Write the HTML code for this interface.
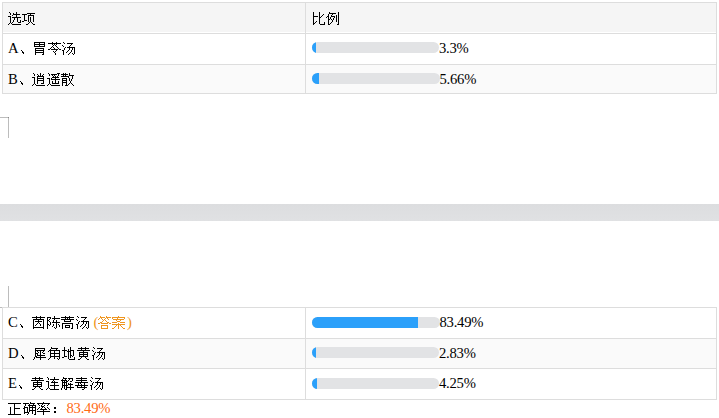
<!DOCTYPE html>
<html lang="zh-CN">
<head>
<meta charset="utf-8">
<title>选项比例</title>
<style>
html,body{margin:0;padding:0;background:#fff;}
body{position:relative;width:719px;height:418px;overflow:hidden;font-family:"Liberation Serif",serif;font-size:14.667px;color:#000;}
.abs,.bg,.hl,.vl,.t,.bar,.cjk{position:absolute;}
.hl{height:1px;background:#ddd;left:2px;width:715px;}
.vl{width:1px;background:#ddd;}
.t{line-height:16px;height:16px;white-space:nowrap;}
.bar{left:312px;width:127px;height:11px;border-radius:6px;background:#e2e3e5;overflow:hidden;}
.bar i{display:block;height:11px;background:#2ba0fa;}
.p{letter-spacing:-0.25px;}
.o{color:#ef9620;}
.r{color:#ff6a14;}
.mk{background:#bcbcbc;}
.cjk{left:0;top:0;}
</style>
</head>
<body>

<div class="bg" style="left:3px;top:3px;width:713px;height:29px;background:#f5f5f5"></div>
<div class="bg" style="left:3px;top:65px;width:713px;height:28px;background:#fafafa"></div>
<div class="bg" style="left:3px;top:339px;width:713px;height:29px;background:#fafafa"></div>
<div class="bg" style="left:0;top:204px;width:719px;height:17px;background:linear-gradient(#dcdddf,#e0e1e3)"></div>
<div class="hl" style="top:2px"></div>
<div class="hl" style="top:33px"></div>
<div class="hl" style="top:64px"></div>
<div class="hl" style="top:93px"></div>
<div class="vl" style="left:2px;top:2px;height:92px"></div>
<div class="vl" style="left:305px;top:2px;height:92px"></div>
<div class="vl" style="left:716px;top:2px;height:92px"></div>
<div class="hl" style="top:307px"></div>
<div class="hl" style="top:338px"></div>
<div class="hl" style="top:368px"></div>
<div class="hl" style="top:399px"></div>
<div class="vl" style="left:2px;top:307px;height:93px"></div>
<div class="vl" style="left:305px;top:307px;height:93px"></div>
<div class="vl" style="left:716px;top:307px;height:93px"></div>
<div class="abs mk" style="left:0;top:117px;width:9px;height:1px"></div>
<div class="abs mk" style="left:8px;top:117px;width:1px;height:21px"></div>
<div class="abs" style="left:8px;top:117px;width:1px;height:1px;background:#8c8c8c"></div>
<div class="abs mk" style="left:8px;top:286px;width:1px;height:21px"></div>
<div class="abs mk" style="left:0;top:307px;width:2px;height:1px"></div>
<div class="t" style="left:8px;top:40px">A</div>
<div class="bar" style="top:42px;width:127px"><i style="width:4.19px"></i></div>
<div class="t p" style="left:439px;top:40px">3.3%</div>
<div class="t" style="left:8px;top:71px">B</div>
<div class="bar" style="top:73px;width:127.5px"><i style="width:7.19px"></i></div>
<div class="t p" style="left:439.5px;top:71px">5.66%</div>
<div class="t" style="left:8px;top:314px">C</div>
<div class="bar" style="top:317px;width:127.5px"><i style="width:106.03px"></i></div>
<div class="t p" style="left:439.5px;top:314px">83.49%</div>
<div class="t" style="left:8px;top:345px">D</div>
<div class="bar" style="top:347px;width:127px"><i style="width:3.59px"></i></div>
<div class="t p" style="left:439px;top:345px">2.83%</div>
<div class="t" style="left:8px;top:375px">E</div>
<div class="bar" style="top:378px;width:127px"><i style="width:5.4px"></i></div>
<div class="t p" style="left:439px;top:375px">4.25%</div>
<div class="t o" style="left:93.5px;top:314px">(</div>
<div class="t o" style="left:127px;top:314px">)</div>
<div class="t r p" style="left:66.5px;top:400px">83.49%</div>
<svg class="cjk" width="719" height="418" viewBox="0 0 719 418" shape-rendering="crispEdges"><title>选项 比例 A、胃苓汤 B、逍遥散 C、茵陈蒿汤 (答案) D、犀角地黄汤 E、黄连解毒汤 正确率：</title><path fill="#000" d="M9 12h1v1h-1zM16 12h1v1h-1zM10 13h1v1h-1zM13 13h1v1h-1zM16 13h1v1h-1zM10 14h1v1h-1zM13 14h7v1h-7zM12 15h1v1h-1zM16 15h1v1h-1zM8 16h3v1h-3zM16 16h1v1h-1zM10 17h1v1h-1zM12 17h9v1h-9zM10 18h1v1h-1zM14 18h1v1h-1zM17 18h1v1h-1zM10 19h1v1h-1zM14 19h1v1h-1zM17 19h1v1h-1zM10 20h1v1h-1zM13 20h1v1h-1zM17 20h1v1h-1zM20 20h1v1h-1zM10 21h1v1h-1zM13 21h1v1h-1zM17 21h1v1h-1zM20 21h1v1h-1zM10 22h1v1h-1zM12 22h1v1h-1zM18 22h3v1h-3zM9 23h1v1h-1zM11 23h1v1h-1zM8 24h1v1h-1zM12 24h9v1h-9zM27 13h8v1h-8zM22 14h5v1h-5zM30 14h1v1h-1zM24 15h1v1h-1zM28 15h6v1h-6zM24 16h1v1h-1zM28 16h1v1h-1zM33 16h1v1h-1zM24 17h1v1h-1zM28 17h1v1h-1zM30 17h1v1h-1zM33 17h1v1h-1zM24 18h1v1h-1zM28 18h1v1h-1zM30 18h1v1h-1zM33 18h1v1h-1zM24 19h1v1h-1zM28 19h1v1h-1zM30 19h1v1h-1zM33 19h1v1h-1zM24 20h3v1h-3zM28 20h1v1h-1zM30 20h1v1h-1zM33 20h1v1h-1zM22 21h2v1h-2zM28 21h1v1h-1zM30 21h1v1h-1zM33 21h1v1h-1zM29 22h1v1h-1zM31 22h1v1h-1zM28 23h1v1h-1zM32 23h1v1h-1zM26 24h2v1h-2zM33 24h2v1h-2zM313 12h1v1h-1zM319 12h1v1h-1zM313 13h1v1h-1zM319 13h1v1h-1zM313 14h1v1h-1zM319 14h1v1h-1zM323 14h1v1h-1zM313 15h1v1h-1zM319 15h1v1h-1zM322 15h1v1h-1zM313 16h5v1h-5zM319 16h1v1h-1zM321 16h1v1h-1zM313 17h1v1h-1zM319 17h2v1h-2zM313 18h1v1h-1zM319 18h1v1h-1zM313 19h1v1h-1zM319 19h1v1h-1zM313 20h1v1h-1zM319 20h1v1h-1zM313 21h1v1h-1zM316 21h1v1h-1zM319 21h1v1h-1zM313 22h1v1h-1zM315 22h1v1h-1zM319 22h1v1h-1zM324 22h1v1h-1zM313 23h2v1h-2zM319 23h1v1h-1zM324 23h1v1h-1zM313 24h1v1h-1zM320 24h5v1h-5zM329 12h1v1h-1zM338 12h1v1h-1zM329 13h7v1h-7zM338 13h1v1h-1zM328 14h1v1h-1zM332 14h1v1h-1zM338 14h1v1h-1zM328 15h1v1h-1zM331 15h1v1h-1zM336 15h1v1h-1zM338 15h1v1h-1zM327 16h2v1h-2zM331 16h4v1h-4zM336 16h1v1h-1zM338 16h1v1h-1zM326 17h1v1h-1zM328 17h1v1h-1zM330 17h1v1h-1zM334 17h1v1h-1zM336 17h1v1h-1zM338 17h1v1h-1zM328 18h1v1h-1zM330 18h1v1h-1zM333 18h1v1h-1zM336 18h1v1h-1zM338 18h1v1h-1zM328 19h2v1h-2zM331 19h1v1h-1zM333 19h1v1h-1zM336 19h1v1h-1zM338 19h1v1h-1zM328 20h1v1h-1zM332 20h1v1h-1zM336 20h1v1h-1zM338 20h1v1h-1zM328 21h1v1h-1zM332 21h1v1h-1zM336 21h1v1h-1zM338 21h1v1h-1zM328 22h1v1h-1zM331 22h1v1h-1zM338 22h1v1h-1zM328 23h1v1h-1zM330 23h1v1h-1zM338 23h1v1h-1zM328 24h2v1h-2zM337 24h2v1h-2zM21 50h1v1h-1zM22 51h1v1h-1zM22 52h2v1h-2zM23 53h1v1h-1zM34 42h11v1h-11zM34 43h1v1h-1zM39 43h1v1h-1zM44 43h1v1h-1zM34 44h11v1h-11zM34 45h1v1h-1zM39 45h1v1h-1zM44 45h1v1h-1zM34 46h11v1h-11zM35 48h9v1h-9zM35 49h1v1h-1zM43 49h1v1h-1zM35 50h9v1h-9zM35 51h1v1h-1zM43 51h1v1h-1zM35 52h9v1h-9zM35 53h1v1h-1zM43 53h1v1h-1zM35 54h1v1h-1zM42 54h2v1h-2zM52 42h1v1h-1zM56 42h1v1h-1zM48 43h13v1h-13zM52 44h1v1h-1zM54 44h1v1h-1zM56 44h1v1h-1zM53 45h1v1h-1zM55 45h1v1h-1zM52 46h1v1h-1zM56 46h1v1h-1zM51 47h1v1h-1zM53 47h1v1h-1zM57 47h1v1h-1zM50 48h1v1h-1zM54 48h1v1h-1zM58 48h1v1h-1zM48 49h2v1h-2zM51 49h7v1h-7zM59 49h2v1h-2zM56 50h1v1h-1zM53 51h1v1h-1zM55 51h1v1h-1zM54 52h1v1h-1zM55 53h1v1h-1zM55 54h1v1h-1zM63 42h1v1h-1zM64 43h1v1h-1zM67 43h6v1h-6zM71 44h1v1h-1zM62 45h1v1h-1zM70 45h1v1h-1zM63 46h1v1h-1zM69 46h1v1h-1zM65 47h1v1h-1zM67 47h8v1h-8zM64 48h1v1h-1zM69 48h1v1h-1zM72 48h1v1h-1zM74 48h1v1h-1zM64 49h1v1h-1zM69 49h1v1h-1zM72 49h1v1h-1zM74 49h1v1h-1zM62 50h2v1h-2zM68 50h1v1h-1zM71 50h1v1h-1zM74 50h1v1h-1zM63 51h1v1h-1zM67 51h1v1h-1zM71 51h1v1h-1zM74 51h1v1h-1zM63 52h1v1h-1zM66 52h1v1h-1zM70 52h1v1h-1zM74 52h1v1h-1zM63 53h1v1h-1zM69 53h1v1h-1zM72 53h1v1h-1zM74 53h1v1h-1zM63 54h1v1h-1zM68 54h1v1h-1zM73 54h1v1h-1zM20 81h1v1h-1zM21 82h1v1h-1zM21 83h2v1h-2zM22 84h1v1h-1zM33 73h1v1h-1zM40 73h1v1h-1zM34 74h1v1h-1zM37 74h1v1h-1zM40 74h1v1h-1zM43 74h1v1h-1zM34 75h1v1h-1zM38 75h1v1h-1zM40 75h1v1h-1zM42 75h1v1h-1zM37 76h7v1h-7zM32 77h3v1h-3zM37 77h1v1h-1zM43 77h1v1h-1zM34 78h1v1h-1zM37 78h7v1h-7zM34 79h1v1h-1zM37 79h1v1h-1zM43 79h1v1h-1zM34 80h1v1h-1zM37 80h7v1h-7zM34 81h1v1h-1zM37 81h1v1h-1zM43 81h1v1h-1zM34 82h1v1h-1zM37 82h1v1h-1zM43 82h1v1h-1zM34 83h1v1h-1zM37 83h1v1h-1zM41 83h3v1h-3zM33 84h1v1h-1zM35 84h1v1h-1zM32 85h1v1h-1zM36 85h9v1h-9zM48 73h1v1h-1zM57 73h3v1h-3zM49 74h1v1h-1zM51 74h6v1h-6zM58 74h1v1h-1zM49 75h1v1h-1zM52 75h1v1h-1zM54 75h1v1h-1zM58 75h1v1h-1zM53 76h1v1h-1zM55 76h1v1h-1zM57 76h1v1h-1zM52 77h7v1h-7zM47 78h3v1h-3zM51 78h1v1h-1zM55 78h1v1h-1zM49 79h1v1h-1zM51 79h9v1h-9zM49 80h1v1h-1zM55 80h1v1h-1zM49 81h1v1h-1zM52 81h1v1h-1zM55 81h1v1h-1zM58 81h1v1h-1zM49 82h1v1h-1zM52 82h1v1h-1zM55 82h1v1h-1zM58 82h1v1h-1zM49 83h1v1h-1zM52 83h7v1h-7zM48 84h1v1h-1zM50 84h1v1h-1zM47 85h1v1h-1zM51 85h9v1h-9zM63 73h1v1h-1zM65 73h1v1h-1zM69 73h1v1h-1zM61 74h7v1h-7zM69 74h1v1h-1zM63 75h1v1h-1zM65 75h1v1h-1zM69 75h5v1h-5zM61 76h8v1h-8zM72 76h1v1h-1zM68 77h1v1h-1zM72 77h1v1h-1zM62 78h5v1h-5zM69 78h1v1h-1zM72 78h1v1h-1zM62 79h1v1h-1zM66 79h1v1h-1zM69 79h1v1h-1zM71 79h1v1h-1zM62 80h5v1h-5zM69 80h1v1h-1zM71 80h1v1h-1zM62 81h1v1h-1zM66 81h1v1h-1zM70 81h1v1h-1zM62 82h5v1h-5zM70 82h1v1h-1zM62 83h1v1h-1zM66 83h1v1h-1zM69 83h1v1h-1zM71 83h1v1h-1zM62 84h1v1h-1zM66 84h1v1h-1zM68 84h1v1h-1zM72 84h1v1h-1zM62 85h1v1h-1zM65 85h3v1h-3zM73 85h1v1h-1zM20 324h1v1h-1zM21 325h1v1h-1zM21 326h2v1h-2zM22 327h1v1h-1zM36 316h1v1h-1zM40 316h1v1h-1zM32 317h13v1h-13zM36 318h1v1h-1zM40 318h1v1h-1zM33 319h11v1h-11zM33 320h1v1h-1zM38 320h1v1h-1zM43 320h1v1h-1zM33 321h1v1h-1zM35 321h7v1h-7zM43 321h1v1h-1zM33 322h1v1h-1zM38 322h1v1h-1zM43 322h1v1h-1zM33 323h1v1h-1zM37 323h1v1h-1zM39 323h1v1h-1zM43 323h1v1h-1zM33 324h1v1h-1zM36 324h1v1h-1zM40 324h1v1h-1zM43 324h1v1h-1zM33 325h1v1h-1zM35 325h1v1h-1zM40 325h1v1h-1zM43 325h1v1h-1zM33 326h1v1h-1zM43 326h1v1h-1zM33 327h11v1h-11zM33 328h1v1h-1zM43 328h1v1h-1zM54 316h1v1h-1zM47 317h4v1h-4zM54 317h1v1h-1zM47 318h1v1h-1zM50 318h1v1h-1zM52 318h8v1h-8zM47 319h1v1h-1zM49 319h1v1h-1zM54 319h1v1h-1zM47 320h2v1h-2zM53 320h1v1h-1zM56 320h1v1h-1zM47 321h1v1h-1zM49 321h1v1h-1zM53 321h1v1h-1zM56 321h1v1h-1zM47 322h1v1h-1zM50 322h1v1h-1zM52 322h8v1h-8zM47 323h1v1h-1zM50 323h1v1h-1zM56 323h1v1h-1zM47 324h2v1h-2zM50 324h1v1h-1zM53 324h1v1h-1zM56 324h1v1h-1zM58 324h1v1h-1zM47 325h1v1h-1zM49 325h1v1h-1zM53 325h1v1h-1zM56 325h1v1h-1zM59 325h1v1h-1zM47 326h1v1h-1zM52 326h1v1h-1zM56 326h1v1h-1zM59 326h1v1h-1zM47 327h1v1h-1zM54 327h1v1h-1zM56 327h1v1h-1zM47 328h1v1h-1zM55 328h1v1h-1zM65 316h1v1h-1zM69 316h1v1h-1zM61 317h13v1h-13zM65 318h1v1h-1zM67 318h1v1h-1zM69 318h1v1h-1zM61 319h13v1h-13zM64 320h1v1h-1zM70 320h1v1h-1zM64 321h7v1h-7zM62 323h11v1h-11zM62 324h1v1h-1zM72 324h1v1h-1zM62 325h1v1h-1zM65 325h5v1h-5zM72 325h1v1h-1zM62 326h1v1h-1zM65 326h1v1h-1zM69 326h1v1h-1zM72 326h1v1h-1zM62 327h1v1h-1zM65 327h5v1h-5zM72 327h1v1h-1zM62 328h1v1h-1zM71 328h2v1h-2zM77 316h1v1h-1zM78 317h1v1h-1zM81 317h6v1h-6zM85 318h1v1h-1zM76 319h1v1h-1zM84 319h1v1h-1zM77 320h1v1h-1zM83 320h1v1h-1zM79 321h1v1h-1zM81 321h8v1h-8zM78 322h1v1h-1zM83 322h1v1h-1zM86 322h1v1h-1zM88 322h1v1h-1zM78 323h1v1h-1zM83 323h1v1h-1zM86 323h1v1h-1zM88 323h1v1h-1zM76 324h2v1h-2zM82 324h1v1h-1zM85 324h1v1h-1zM88 324h1v1h-1zM77 325h1v1h-1zM81 325h1v1h-1zM85 325h1v1h-1zM88 325h1v1h-1zM77 326h1v1h-1zM80 326h1v1h-1zM84 326h1v1h-1zM88 326h1v1h-1zM77 327h1v1h-1zM83 327h1v1h-1zM86 327h1v1h-1zM88 327h1v1h-1zM77 328h1v1h-1zM82 328h1v1h-1zM87 328h1v1h-1zM21 355h1v1h-1zM22 356h1v1h-1zM22 357h2v1h-2zM23 358h1v1h-1zM35 348h10v1h-10zM35 349h1v1h-1zM44 349h1v1h-1zM35 350h10v1h-10zM35 351h1v1h-1zM37 351h1v1h-1zM40 351h1v1h-1zM43 351h1v1h-1zM35 352h1v1h-1zM38 352h1v1h-1zM40 352h1v1h-1zM42 352h1v1h-1zM35 353h3v1h-3zM40 353h1v1h-1zM43 353h2v1h-2zM35 354h1v1h-1zM37 354h1v1h-1zM40 354h1v1h-1zM35 355h1v1h-1zM37 355h8v1h-8zM35 356h2v1h-2zM40 356h1v1h-1zM34 357h1v1h-1zM36 357h10v1h-10zM34 358h1v1h-1zM40 358h1v1h-1zM33 359h1v1h-1zM40 359h1v1h-1zM51 347h1v1h-1zM51 348h7v1h-7zM50 349h1v1h-1zM56 349h1v1h-1zM49 350h11v1h-11zM48 351h1v1h-1zM50 351h1v1h-1zM54 351h1v1h-1zM59 351h1v1h-1zM50 352h1v1h-1zM54 352h1v1h-1zM59 352h1v1h-1zM50 353h10v1h-10zM50 354h1v1h-1zM54 354h1v1h-1zM59 354h1v1h-1zM50 355h1v1h-1zM54 355h1v1h-1zM59 355h1v1h-1zM50 356h10v1h-10zM50 357h1v1h-1zM54 357h1v1h-1zM59 357h1v1h-1zM49 358h1v1h-1zM54 358h1v1h-1zM57 358h1v1h-1zM59 358h1v1h-1zM48 359h1v1h-1zM58 359h1v1h-1zM64 347h1v1h-1zM70 347h1v1h-1zM64 348h1v1h-1zM70 348h1v1h-1zM64 349h1v1h-1zM68 349h1v1h-1zM70 349h1v1h-1zM62 350h5v1h-5zM68 350h1v1h-1zM70 350h4v1h-4zM64 351h1v1h-1zM67 351h4v1h-4zM73 351h1v1h-1zM64 352h1v1h-1zM68 352h1v1h-1zM70 352h1v1h-1zM73 352h1v1h-1zM64 353h1v1h-1zM68 353h1v1h-1zM70 353h1v1h-1zM73 353h1v1h-1zM64 354h1v1h-1zM68 354h1v1h-1zM70 354h1v1h-1zM73 354h1v1h-1zM64 355h1v1h-1zM68 355h1v1h-1zM70 355h2v1h-2zM73 355h1v1h-1zM64 356h3v1h-3zM68 356h1v1h-1zM70 356h1v1h-1zM72 356h1v1h-1zM62 357h2v1h-2zM68 357h1v1h-1zM70 357h1v1h-1zM74 357h1v1h-1zM68 358h1v1h-1zM74 358h1v1h-1zM69 359h6v1h-6zM81 347h1v1h-1zM85 347h1v1h-1zM78 348h11v1h-11zM81 349h1v1h-1zM85 349h1v1h-1zM77 350h13v1h-13zM83 351h1v1h-1zM79 352h9v1h-9zM79 353h1v1h-1zM83 353h1v1h-1zM87 353h1v1h-1zM79 354h9v1h-9zM79 355h1v1h-1zM83 355h1v1h-1zM87 355h1v1h-1zM79 356h9v1h-9zM81 357h1v1h-1zM85 357h1v1h-1zM80 358h1v1h-1zM86 358h1v1h-1zM78 359h2v1h-2zM87 359h2v1h-2zM93 347h1v1h-1zM94 348h1v1h-1zM97 348h6v1h-6zM101 349h1v1h-1zM92 350h1v1h-1zM100 350h1v1h-1zM93 351h1v1h-1zM99 351h1v1h-1zM95 352h1v1h-1zM97 352h8v1h-8zM94 353h1v1h-1zM99 353h1v1h-1zM102 353h1v1h-1zM104 353h1v1h-1zM94 354h1v1h-1zM99 354h1v1h-1zM102 354h1v1h-1zM104 354h1v1h-1zM92 355h2v1h-2zM98 355h1v1h-1zM101 355h1v1h-1zM104 355h1v1h-1zM93 356h1v1h-1zM97 356h1v1h-1zM101 356h1v1h-1zM104 356h1v1h-1zM93 357h1v1h-1zM96 357h1v1h-1zM100 357h1v1h-1zM104 357h1v1h-1zM93 358h1v1h-1zM99 358h1v1h-1zM102 358h1v1h-1zM104 358h1v1h-1zM93 359h1v1h-1zM98 359h1v1h-1zM103 359h1v1h-1zM19 385h1v1h-1zM20 386h1v1h-1zM20 387h2v1h-2zM21 388h1v1h-1zM35 377h1v1h-1zM39 377h1v1h-1zM32 378h11v1h-11zM35 379h1v1h-1zM39 379h1v1h-1zM31 380h13v1h-13zM37 381h1v1h-1zM33 382h9v1h-9zM33 383h1v1h-1zM37 383h1v1h-1zM41 383h1v1h-1zM33 384h9v1h-9zM33 385h1v1h-1zM37 385h1v1h-1zM41 385h1v1h-1zM33 386h9v1h-9zM35 387h1v1h-1zM39 387h1v1h-1zM34 388h1v1h-1zM40 388h1v1h-1zM32 389h2v1h-2zM41 389h2v1h-2zM47 377h1v1h-1zM54 377h1v1h-1zM48 378h1v1h-1zM54 378h1v1h-1zM48 379h1v1h-1zM50 379h9v1h-9zM53 380h1v1h-1zM46 381h3v1h-3zM52 381h1v1h-1zM54 381h1v1h-1zM48 382h1v1h-1zM51 382h7v1h-7zM48 383h1v1h-1zM54 383h1v1h-1zM48 384h1v1h-1zM54 384h1v1h-1zM48 385h1v1h-1zM50 385h9v1h-9zM48 386h1v1h-1zM54 386h1v1h-1zM48 387h1v1h-1zM54 387h1v1h-1zM47 388h1v1h-1zM49 388h1v1h-1zM54 388h1v1h-1zM46 389h1v1h-1zM50 389h9v1h-9zM63 377h1v1h-1zM63 378h4v1h-4zM68 378h5v1h-5zM62 379h1v1h-1zM65 379h1v1h-1zM69 379h1v1h-1zM72 379h1v1h-1zM61 380h6v1h-6zM68 380h1v1h-1zM72 380h1v1h-1zM62 381h1v1h-1zM64 381h1v1h-1zM66 381h2v1h-2zM70 381h2v1h-2zM62 382h5v1h-5zM62 383h1v1h-1zM64 383h1v1h-1zM66 383h1v1h-1zM68 383h1v1h-1zM70 383h1v1h-1zM62 384h1v1h-1zM64 384h1v1h-1zM66 384h1v1h-1zM68 384h5v1h-5zM62 385h6v1h-6zM70 385h1v1h-1zM62 386h1v1h-1zM64 386h1v1h-1zM66 386h1v1h-1zM70 386h1v1h-1zM62 387h1v1h-1zM64 387h1v1h-1zM66 387h8v1h-8zM61 388h1v1h-1zM64 388h1v1h-1zM66 388h1v1h-1zM70 388h1v1h-1zM61 389h1v1h-1zM65 389h2v1h-2zM70 389h1v1h-1zM81 377h1v1h-1zM76 378h11v1h-11zM81 379h1v1h-1zM76 380h11v1h-11zM81 381h1v1h-1zM75 382h13v1h-13zM78 383h1v1h-1zM80 383h1v1h-1zM84 383h1v1h-1zM78 384h1v1h-1zM81 384h1v1h-1zM84 384h1v1h-1zM75 385h13v1h-13zM77 386h1v1h-1zM81 386h1v1h-1zM84 386h1v1h-1zM77 387h10v1h-10zM84 388h1v1h-1zM82 389h2v1h-2zM91 377h1v1h-1zM92 378h1v1h-1zM95 378h6v1h-6zM99 379h1v1h-1zM90 380h1v1h-1zM98 380h1v1h-1zM91 381h1v1h-1zM97 381h1v1h-1zM93 382h1v1h-1zM95 382h8v1h-8zM92 383h1v1h-1zM97 383h1v1h-1zM100 383h1v1h-1zM102 383h1v1h-1zM92 384h1v1h-1zM97 384h1v1h-1zM100 384h1v1h-1zM102 384h1v1h-1zM90 385h2v1h-2zM96 385h1v1h-1zM99 385h1v1h-1zM102 385h1v1h-1zM91 386h1v1h-1zM95 386h1v1h-1zM99 386h1v1h-1zM102 386h1v1h-1zM91 387h1v1h-1zM94 387h1v1h-1zM98 387h1v1h-1zM102 387h1v1h-1zM91 388h1v1h-1zM97 388h1v1h-1zM100 388h1v1h-1zM102 388h1v1h-1zM91 389h1v1h-1zM96 389h1v1h-1zM101 389h1v1h-1zM8 403h13v1h-13zM14 404h1v1h-1zM14 405h1v1h-1zM14 406h1v1h-1zM10 407h1v1h-1zM14 407h1v1h-1zM10 408h1v1h-1zM14 408h6v1h-6zM10 409h1v1h-1zM14 409h1v1h-1zM10 410h1v1h-1zM14 410h1v1h-1zM10 411h1v1h-1zM14 411h1v1h-1zM10 412h1v1h-1zM14 412h1v1h-1zM10 413h1v1h-1zM14 413h1v1h-1zM8 414h13v1h-13zM30 402h1v1h-1zM23 403h6v1h-6zM30 403h5v1h-5zM25 404h1v1h-1zM29 404h1v1h-1zM33 404h1v1h-1zM25 405h1v1h-1zM28 405h8v1h-8zM24 406h1v1h-1zM29 406h1v1h-1zM32 406h1v1h-1zM35 406h1v1h-1zM24 407h4v1h-4zM29 407h7v1h-7zM23 408h2v1h-2zM27 408h1v1h-1zM29 408h1v1h-1zM32 408h1v1h-1zM35 408h1v1h-1zM24 409h1v1h-1zM27 409h1v1h-1zM29 409h1v1h-1zM32 409h1v1h-1zM35 409h1v1h-1zM24 410h1v1h-1zM27 410h1v1h-1zM29 410h7v1h-7zM24 411h1v1h-1zM27 411h1v1h-1zM29 411h1v1h-1zM32 411h1v1h-1zM35 411h1v1h-1zM24 412h5v1h-5zM32 412h1v1h-1zM35 412h1v1h-1zM24 413h1v1h-1zM28 413h1v1h-1zM32 413h1v1h-1zM35 413h1v1h-1zM27 414h1v1h-1zM34 414h2v1h-2zM43 402h1v1h-1zM37 403h13v1h-13zM38 404h1v1h-1zM42 404h1v1h-1zM48 404h1v1h-1zM39 405h1v1h-1zM41 405h1v1h-1zM44 405h1v1h-1zM47 405h1v1h-1zM41 406h3v1h-3zM39 407h1v1h-1zM42 407h1v1h-1zM44 407h1v1h-1zM47 407h1v1h-1zM38 408h1v1h-1zM41 408h1v1h-1zM45 408h1v1h-1zM48 408h1v1h-1zM37 409h1v1h-1zM40 409h7v1h-7zM49 409h1v1h-1zM43 410h1v1h-1zM37 411h13v1h-13zM43 412h1v1h-1zM43 413h1v1h-1zM43 414h1v1h-1zM54 407h2v1h-2zM54 408h2v1h-2zM54 411h2v1h-2zM54 412h2v1h-2z"/><path fill="#ef9620" d="M100 316h1v1h-1zM106 316h1v1h-1zM100 317h5v1h-5zM106 317h5v1h-5zM99 318h1v1h-1zM101 318h1v1h-1zM105 318h1v1h-1zM107 318h1v1h-1zM98 319h1v1h-1zM102 319h1v1h-1zM104 319h1v1h-1zM108 319h1v1h-1zM103 320h1v1h-1zM105 320h1v1h-1zM102 321h1v1h-1zM106 321h1v1h-1zM100 322h2v1h-2zM107 322h2v1h-2zM98 323h2v1h-2zM101 323h7v1h-7zM109 323h2v1h-2zM101 325h7v1h-7zM101 326h1v1h-1zM107 326h1v1h-1zM101 327h1v1h-1zM107 327h1v1h-1zM101 328h7v1h-7zM118 316h1v1h-1zM112 317h13v1h-13zM112 318h1v1h-1zM117 318h1v1h-1zM124 318h1v1h-1zM113 319h11v1h-11zM116 320h1v1h-1zM120 320h1v1h-1zM117 321h3v1h-3zM112 322h5v1h-5zM120 322h5v1h-5zM118 323h1v1h-1zM112 324h13v1h-13zM116 325h1v1h-1zM118 325h1v1h-1zM120 325h1v1h-1zM115 326h1v1h-1zM118 326h1v1h-1zM121 326h1v1h-1zM114 327h1v1h-1zM118 327h1v1h-1zM122 327h1v1h-1zM112 328h2v1h-2zM118 328h1v1h-1zM123 328h2v1h-2z"/></svg>

</body>
</html>
